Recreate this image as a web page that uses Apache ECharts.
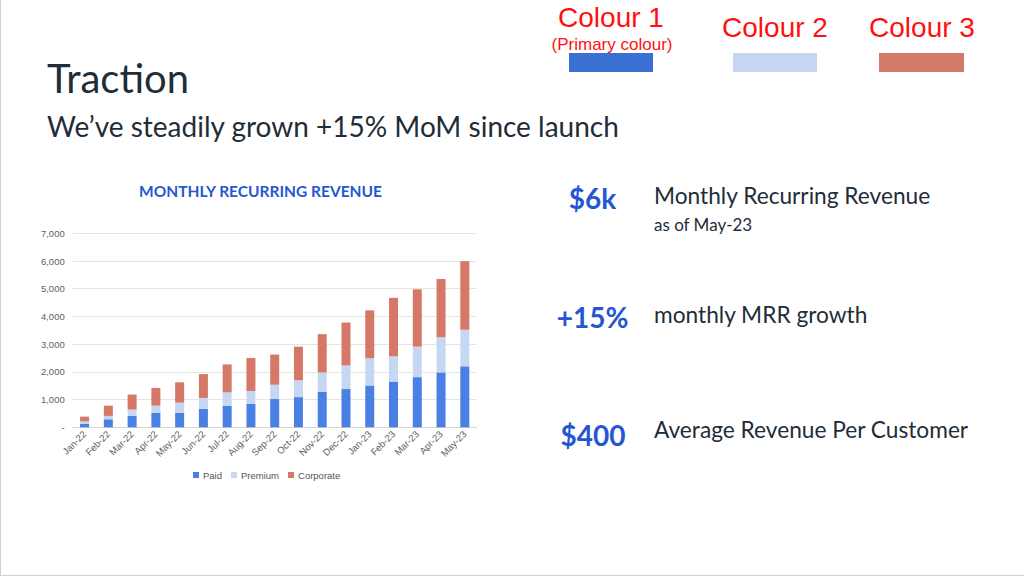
<!DOCTYPE html>
<html>
<head>
<meta charset="utf-8">
<script src="https://cdn.jsdelivr.net/npm/echarts@6/dist/echarts.min.js"></script>
<style>
html,body{margin:0;padding:0;background:#fff;}
#main{width:1024px;height:576px;}
</style>
</head>
<body>
<div id="main"></div>
<script>
// ---- data ----
const categories = ['Jan-22','Feb-22','Mar-22','Apr-22','May-22','Jun-22','Jul-22','Aug-22','Sep-22','Oct-22','Nov-22','Dec-22','Jan-23','Feb-23','Mar-23','Apr-23','May-23'];
const paid      = [130, 290, 410, 530, 530, 670, 780, 840, 1020, 1090, 1280, 1380, 1510, 1650, 1810, 1980, 2200];
const premium   = [85, 120, 230, 250, 360, 390, 480, 470, 515, 610, 700, 850, 980, 910, 1100, 1270, 1320];
const corporate = [170, 370, 540, 640, 735, 860, 1010, 1190, 1090, 1210, 1380, 1550, 1730, 2110, 2070, 2100, 2475];
const seriesNames = ['Paid', 'Premium', 'Corporate'];
const yTicks = [0, 1000, 2000, 3000, 4000, 5000, 6000, 7000];

const colors = ['#4a80e4', '#c6d7f4', '#d57867'];
const swatchColors = ['#3a6fd4', '#c6d6f3', '#d47a68'];

const chart = echarts.init(document.getElementById('main'), null, {renderer: 'svg'});

const dark = '#1f2d38';
const blue = '#2656d2';
const lato = 'Lato, "Open Sans", sans-serif';
const arial = 'Arial, "Liberation Sans", sans-serif';

function txt(x, y, text, font, fill, align) {
  return {type: 'text', x: x, y: y, style: {text: text, font: font, fill: fill, align: align || 'left', verticalAlign: 'middle'}};
}

const option = {
  animation: false,
  backgroundColor: '#ffffff',
  color: colors,
  legend: {
    data: seriesNames,
    left: 188,
    top: 465,
    icon: 'rect',
    itemWidth: 6,
    itemHeight: 6,
    itemGap: 9,
    textStyle: {fontFamily: arial, fontSize: 9.5, color: '#555', padding: [0, 0, 0, -1]}
  },
  grid: {left: 72.7, right: 547.3, top: 233.3, bottom: 148.7, containLabel: false},
  xAxis: {
    type: 'category',
    data: categories,
    axisTick: {show: false},
    axisLine: {lineStyle: {color: '#d6d6d6'}},
    axisLabel: {interval: 0, rotate: 45, fontSize: 9.5, color: '#606060', margin: 5, fontFamily: arial}
  },
  yAxis: {
    type: 'value',
    min: yTicks[0],
    max: yTicks[yTicks.length - 1],
    interval: 1000,
    axisLine: {show: false},
    axisTick: {show: false},
    splitLine: {lineStyle: {color: '#e4e4e4'}},
    axisLabel: {
      fontSize: 9.5, color: '#606060', margin: 8, fontFamily: arial,
      formatter: v => v === 0 ? '-' : v.toLocaleString('en-US')
    }
  },
  series: [
    {name: seriesNames[0], type: 'bar', stack: 'total', data: paid, barWidth: 9},
    {name: seriesNames[1], type: 'bar', stack: 'total', data: premium, barWidth: 9},
    {name: seriesNames[2], type: 'bar', stack: 'total', data: corporate, barWidth: 9}
  ],
  graphic: [
    // slide border
    {type: 'line', shape: {x1: 0.5, y1: 0, x2: 0.5, y2: 576}, style: {stroke: '#d0d0d0', lineWidth: 1}, silent: true},
    {type: 'line', shape: {x1: 0, y1: 575.5, x2: 1024, y2: 575.5}, style: {stroke: '#d0d0d0', lineWidth: 1}, silent: true},
    // headings
    {type: 'text', left: 47, top: 58, style: {text: 'Traction', font: '40px ' + lato, fill: dark}},
    {type: 'text', left: 47, top: 112, style: {text: 'We’ve steadily grown +15% MoM since launch', font: '28px ' + lato, fill: dark}},
    // chart title
    txt(260.5, 191, 'MONTHLY RECURRING REVENUE', 'bold 15.5px ' + lato, '#2457d3', 'center'),
    // KPIs
    txt(592.5, 198, '$6k', 'bold 28px ' + lato, blue, 'center'),
    txt(654, 195, 'Monthly Recurring Revenue', '22.7px ' + lato, dark),
    txt(654, 224, 'as of May-23', '17px ' + lato, dark),
    txt(592.5, 317, '+15%', 'bold 28px ' + lato, blue, 'center'),
    txt(654, 314, 'monthly MRR growth', '22.7px ' + lato, dark),
    txt(593, 435, '$400', 'bold 28px ' + lato, blue, 'center'),
    txt(654, 429, 'Average Revenue Per Customer', '22.7px ' + lato, dark),
    // colour annotations
    txt(611, 17, 'Colour 1', '28px ' + arial, '#ff1010', 'center'),
    txt(612, 44, '(Primary colour)', '17px ' + arial, '#ff1010', 'center'),
    txt(775, 27, 'Colour 2', '28px ' + arial, '#ff1010', 'center'),
    txt(922, 27, 'Colour 3', '28px ' + arial, '#ff1010', 'center'),
    {type: 'rect', shape: {x: 569, y: 53, width: 84, height: 19}, style: {fill: swatchColors[0]}},
    {type: 'rect', shape: {x: 733, y: 53, width: 84, height: 19}, style: {fill: swatchColors[1]}},
    {type: 'rect', shape: {x: 879, y: 53, width: 85, height: 19}, style: {fill: swatchColors[2]}}
  ]
};
chart.setOption(option);
</script>
</body>
</html>
